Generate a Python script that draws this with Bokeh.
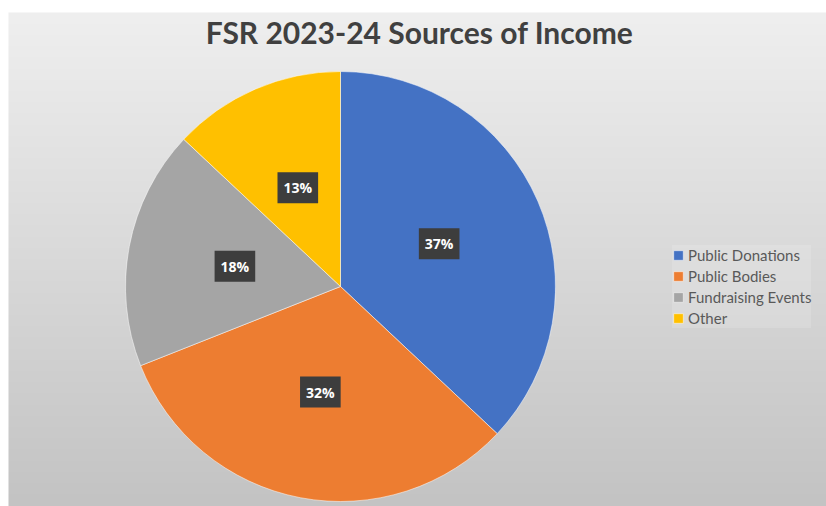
import numpy as np
from bokeh.plotting import figure
from bokeh.models import Range1d, ColumnDataSource, Legend, LegendItem
from bokeh.core.properties import value
from bokeh.embed import file_html
from bokeh.resources import INLINE

# ---- data ----
categories = ["Public Donations", "Public Bodies", "Fundraising Events", "Other"]
shares = [37, 32, 18, 13]
colors = ["#4472C4", "#ED7D31", "#A5A5A5", "#FFC000"]
title_text = "FSR 2023-24 Sources of Income"

W, H = 826, 506
p = figure(width=W, height=H, x_range=Range1d(0, W), y_range=Range1d(0, H),
           output_backend="svg", toolbar_location=None, min_border=0,
           background_fill_color="white", border_fill_color="white")
p.axis.visible = False
p.xgrid.visible = False
p.ygrid.visible = False
p.outline_line_color = None

# background vertical gradient (decoration)
gh = 494
t = np.linspace(0, 1, gh)[:, None]  # row 0 = bottom
top_c, bot_c = 239, 195
g = (bot_c + (top_c - bot_c) * t).astype(np.uint32)
g = np.repeat(g, 2, axis=1)
img = (255 << 24) | (g << 16) | (g << 8) | g
p.image_rgba(image=[img.astype(np.uint32)], x=8, y=0, dw=W - 8, dh=gh)

# ---- pie ----
cx, cy, R = 340, 220, 215
vals = np.array(shares, dtype=float)
frac = vals / vals.sum()
cum = np.concatenate([[0], np.cumsum(frac)])
start = np.pi / 2 - 2 * np.pi * cum[:-1]
end = np.pi / 2 - 2 * np.pi * cum[1:]
mid = (start + end) / 2
src = ColumnDataSource(dict(cat=categories, start=start, end=end, color=colors,
                            lx=cx + 0.5 * R * np.cos(mid), ly=cy + 0.5 * R * np.sin(mid),
                            lab=[f"{v}%" for v in shares]))

renderers = []
for i in range(len(categories)):
    r = p.wedge(x=cx, y=cy, radius=R, start_angle=start[i], end_angle=end[i],
                direction="clock", fill_color=colors[i], line_color="white",
                line_alpha=0.5, line_width=1)
    renderers.append(r)

p.text(x="lx", y="ly", text="lab", source=src, text_color="white",
       text_font=value("Open Sans"), text_font_style="bold", text_font_size="14px",
       text_align="center", text_baseline="middle",
       background_fill_color="#3d3d3d",
       padding=dict(left=6, right=6, top=6, bottom=6))

# title
p.text(x=[419], y=[475], text=[title_text], text_color="#404040",
       text_font=value("Lato"), text_font_style="bold", text_font_size="30px",
       text_align="center", text_baseline="middle")

legend = Legend(items=[LegendItem(label=c, renderers=[r]) for c, r in zip(categories, renderers)],
                location=(672, 178), glyph_width=12, glyph_height=12, label_standoff=4,
                label_text_font="Lato", label_text_font_size="15px", label_text_color="#595959",
                label_height=20, spacing=1, padding=2, margin=0,
                background_fill_color="white", background_fill_alpha=0.15,
                border_line_color=None)
p.add_layout(legend, "center")

open("out.html", "w").write(file_html(p, INLINE))
